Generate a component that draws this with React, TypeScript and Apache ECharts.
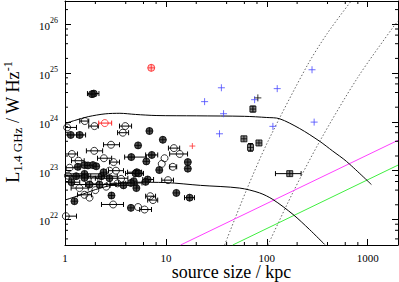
import React, { useEffect, useRef } from 'react';
import * as echarts from 'echarts';

const FONT = 'Liberation Serif';
const X_MIN = 1;
const X_MAX = 2000;
const Y_MIN = 3e21;
const Y_MAX = 3e26;

const xMinorTicks = [2, 4, 6, 8, 20, 40, 60, 80, 200, 400, 600, 800];
const yMinorTicks = [4e21, 6e21, 8e21, 2e22, 4e22, 6e22, 8e22, 2e23, 4e23, 6e23, 8e23, 2e24, 4e24, 6e24, 8e24, 2e25, 4e25, 6e25, 8e25, 2e26];

// [size, L, sizeLow, sizeHigh] (null when no error bar)
const openCircles: (number | null)[][] = [
  [1.57, 1.04e24, 1.40, 1.72], [1.96, 8.2e23, 1.72, 2.14], [1.05, 7.7e23, 1.0, 1.3],
  [3.96, 8.2e23, 3.47, 4.57], [3.74, 6.0e23, 3.32, 4.27], [2.86, 3.4e23, 2.41, 3.47],
  [12.0, 2.9e23, 10.6, 13.7], [1.95, 2.55e23, 1.63, 2.36], [1.17, 2.2e23, 1.01, 1.33],
  [1.36, 1.6e23, 1.16, 1.55], [2.43, 1.8e23, 2.1, 2.9], [3.03, 1.5e23, 2.76, 3.47],
  [9.7, 1.8e23, null, null], [13.7, 2.2e23, 10.9, 16.4], [9.1, 1.38e23, null, null],
  [11.7, 1.2e23, 10.9, 12.8], [10.5, 6.4e22, 9.1, 11.9], [7.0, 3.0e22, 6.3, 7.9],
  [7.45, 2.5e22, 6.6, 8.3], [5.3, 1.8e22, null, null], [6.15, 1.6e22, 5.5, 7.2],
  [3.0, 2.03e22, 2.3, 3.8], [1.56, 3.2e22, 1.33, 1.83], [1.75, 2.8e22, null, null],
  [1.02, 1.17e22, 1.0, 1.3], [1.11, 1.15e23, 1.0, 1.4], [2.76, 1.0e23, null, null],
  [3.2, 1.0e23, 2.7, 3.8], [1.07, 7.9e22, 1.0, 1.5], [3.6, 6.8e22, null, null],
  [2.56, 4.7e22, null, null], [1.96, 6.4e22, null, null], [3.32, 5.5e22, 2.8, 4.0],
  [1.39, 4.4e22, 1.15, 1.7], [2.0, 4.0e22, null, null],
];

const filledCircles: (number | null)[][] = [
  [1.93, 3.8e24, 1.67, 2.17], [1.85, 3.7e24, null, null], [6.87, 6.5e23, null, null],
  [9.33, 4.3e23, null, null], [1.14, 5.4e23, 1.01, 1.3], [1.40, 5.4e23, 1.3, 1.6],
  [5.3, 3.3e23, null, null], [4.54, 1.9e23, 3.9, 6.4], [7.25, 2.1e23, 6.3, 8.3],
  [6.4, 1.55e23, null, null], [16.5, 1.5e23, null, null], [16.5, 1.1e23, null, null],
  [8.6, 1.03e23, null, null], [5.15, 9.3e22, 4.17, 5.74], [6.6, 6.6e22, 5.9, 7.55],
  [4.8, 6.1e22, null, null], [12.7, 3.5e22, null, null], [17.2, 2.8e22, 15.3, 19.2],
  [4.5, 1.73e22, null, null], [1.24, 2.37e22, null, null], [2.89, 3.1e22, null, null],
  [1.34, 1.2e23, null, null], [1.56, 1.3e23, null, null], [1.69, 1.28e23, null, null],
  [1.89, 1.3e23, null, null], [2.04, 1.23e23, null, null], [5.0, 8.8e22, 3.98, 6.0],
  [5.4, 8.8e22, null, null], [1.56, 8.6e22, 1.0, 2.6], [1.29, 7.7e22, 1.0, 1.8],
  [1.56, 7.1e22, 1.1, 2.3], [4.5, 5.6e22, 3.4, 5.8], [6.3, 5.9e22, null, null],
  [1.75, 5.2e22, 1.2, 2.6], [2.2, 5.2e22, 1.6, 3.2], [5.1, 4.4e22, null, null],
  [1.16, 5.8e22, 1.0, 1.4], [2.3, 7.7e22, 1.7, 3.3], [2.76, 7.0e22, 2.0, 4.2],
  [3.8, 5.0e22, 2.8, 5.2], [2.41, 9.3e22, null, null],
];

const redCircles: (number | null)[][] = [
  [7.16, 1.28e25, null, null], [2.48, 9.45e23, 2.16, 2.9],
];
const redPlus = [[18.3, 3.2e23]];

// squares: [size, L, sizeLow, sizeHigh, LLow, LHigh]
const boxes: (number | null)[][] = [
  [59.4, 4.5e23, null, null, null, null], [72.9, 1.83e24, null, null, 1.6e24, 2.1e24],
  [69, 3.0e23, null, null, 2.5e23, 3.6e23], [83.7, 3.7e23, null, null, null, null],
  [169, 8.7e22, 122, 219, null, null],
];

const bluePlus = [
  [35.5, 5.0e24], [24.2, 2.6e24], [37.3, 1.47e24], [34.0, 5.7e23], [75.8, 2.85e24],
  [127, 4.8e24], [115, 8.1e23], [281, 1.17e25], [295, 9.9e23],
];
const blackPlus = [[81.6, 3.1e24]];

const upperX = [1, 1.25, 1.7, 2.5, 3.5, 5, 8, 20, 60, 100, 134, 212, 335, 450, 617, 1090];
const upperY = [9.3e23, 1.07e24, 1.28e24, 1.46e24, 1.5e24, 1.42e24, 1.35e24, 1.33e24, 1.3e24, 1.23e24, 1.16e24, 7.3e23, 4.0e23, 2.53e23, 1.55e23, 5.2e22];
const lowerX = [1, 1.5, 2, 3, 5, 10, 22, 54, 85, 115, 182, 265, 375];
const lowerY = [2.5e22, 3.3e22, 4.1e22, 5.1e22, 5.8e22, 5.7e22, 5.0e22, 4.4e22, 3.5e22, 2.57e22, 1.27e22, 6.25e21, 3.08e21];
const dot1X = [38.2, 63.1, 102.8, 251, 398, 691];
const dot1Y = [3e21, 4.05e22, 3.99e23, 1.41e25, 6.5e25, 3.05e26];
const dot2X = [102.8, 178, 335, 794, 1786, 2000];
const dot2Y = [3e21, 3.29e22, 3.99e23, 8.0e24, 8.7e25, 1.17e26];
const magentaX = [14, 2000];
const magentaY = [3e21, 4.2e23];
const greenX = [46, 2000];
const greenY = [3e21, 1.3e23];

const zip = (xs: number[], ys: number[]) => xs.map((x, i) => [x, ys[i]]);
const isPow10 = (v: number) => {
  const l = Math.log10(v);
  return Math.abs(l - Math.round(l)) < 1e-6;
};

const CIRCLE_CROSS = 'path://M0,5 A5,5 0 1 1 10,5 A5,5 0 1 1 0,5 Z M5,0 L5,10 M0,5 L10,5';
const BOX_CROSS = 'path://M0,0 L10,0 L10,10 L0,10 Z M5,0 L5,10 M0,5 L10,5';
const PLUS = 'path://M5,0 L5,10 M0,5 L10,5';

function hErrSeries(rows: (number | null)[][], color: string) {
  const data = rows.filter(r => r[2] != null && r[3] != null).map(r => [r[0], r[1], r[2], r[3]]);
  return {
    type: 'custom', silent: true, z: 2, clip: true,
    data,
    renderItem: (params: any, api: any) => {
      const y = api.value(1);
      const c = api.coord([api.value(0), y]);
      const l = api.coord([api.value(2), y]);
      const h = api.coord([api.value(3), y]);
      const st = { stroke: color, lineWidth: 1 };
      return {
        type: 'group', children: [
          { type: 'line', shape: { x1: l[0], y1: c[1], x2: h[0], y2: c[1] }, style: st },
          { type: 'line', shape: { x1: l[0], y1: c[1] - 2.5, x2: l[0], y2: c[1] + 2.5 }, style: st },
          { type: 'line', shape: { x1: h[0], y1: c[1] - 2.5, x2: h[0], y2: c[1] + 2.5 }, style: st },
        ],
      };
    },
  };
}

function vErrSeries(rows: (number | null)[][]) {
  const data = rows.filter(r => r[4] != null && r[5] != null).map(r => [r[0], r[1], r[4], r[5]]);
  return {
    type: 'custom', silent: true, z: 2, clip: true,
    data,
    renderItem: (params: any, api: any) => {
      const x = api.value(0);
      const lo = api.coord([x, api.value(2)]);
      const hi = api.coord([x, api.value(3)]);
      const st = { stroke: '#000', lineWidth: 1 };
      return {
        type: 'group', children: [
          { type: 'line', shape: { x1: lo[0], y1: lo[1], x2: hi[0], y2: hi[1] }, style: st },
          { type: 'line', shape: { x1: lo[0] - 2.5, y1: lo[1], x2: lo[0] + 2.5, y2: lo[1] }, style: st },
          { type: 'line', shape: { x1: hi[0] - 2.5, y1: hi[1], x2: hi[0] + 2.5, y2: hi[1] }, style: st },
        ],
      };
    },
  };
}

function lineSeries(xs: number[], ys: number[], color: string, type: any = 'solid', smooth: any = false) {
  return {
    type: 'line', data: zip(xs, ys), showSymbol: false, symbol: 'none', smooth, clip: true, z: 3,
    lineStyle: { color, width: 1, type }, silent: true,
  };
}

export default function App() {
  const ref = useRef<HTMLDivElement>(null);
  useEffect(() => {
    if (!ref.current) return;
    const chart = echarts.init(ref.current, null, { renderer: 'svg' });
    const axisCommonX = {
      type: 'log', logBase: 10, min: X_MIN, max: X_MAX,
      axisLine: { show: true, lineStyle: { color: '#000', width: 1 } },
      axisTick: { show: true, inside: true, length: 6, lineStyle: { color: '#000', width: 1 } },
      splitLine: { show: false }, minorTick: { show: false },
    };
    const axisCommonY = {
      type: 'log', logBase: 10, min: Y_MIN, max: Y_MAX,
      axisLine: { show: true, lineStyle: { color: '#000', width: 1 } },
      axisTick: { show: true, inside: true, length: 6, lineStyle: { color: '#000', width: 1 } },
      splitLine: { show: false }, minorTick: { show: false },
    };
    const option: any = {
      animation: false,
      backgroundColor: '#fff',
      textStyle: { fontFamily: FONT, color: '#000' },
      grid: { left: 65, right: 1, top: 1, bottom: 37, outerBoundsMode: 'none', containLabel: false },
      xAxis: [
        {
          ...axisCommonX, position: 'bottom',
          axisLabel: {
            color: '#000', fontFamily: FONT, fontSize: 11, margin: 7,
            formatter: (v: number) => (isPow10(v) ? String(Math.round(v)) : ''),
          },
        },
        { ...axisCommonX, position: 'top', axisLabel: { show: false } },
      ],
      yAxis: [
        {
          ...axisCommonY, position: 'left',
          axisLabel: {
            color: '#000', fontFamily: FONT, fontSize: 11, margin: 7,
            formatter: (v: number) => (isPow10(v) ? `{b|10}{s|${Math.round(Math.log10(v))}}` : ''),
            rich: {
              b: { fontSize: 11, fontFamily: FONT, color: '#000', verticalAlign: 'bottom', lineHeight: 15 },
              s: { fontSize: 8, fontFamily: FONT, color: '#000', verticalAlign: 'top' },
            },
          },
        },
        { ...axisCommonY, position: 'right', axisLabel: { show: false } },
      ],
      graphic: [
        {
          type: 'text', x: 231.5, y: 272, silent: true,
          style: { text: 'source size / kpc', fontFamily: FONT, fontSize: 18, fill: '#000', align: 'center', verticalAlign: 'middle' },
        },
        {
          type: 'text', x: 12.5, y: 122, rotation: Math.PI / 2, silent: true,
          style: {
            text: '{m|L}{sub|1.4 GHz}{m| / W Hz}{sup|-1}',
            align: 'center', verticalAlign: 'middle', fill: '#000', fontFamily: FONT, fontSize: 18,
            rich: {
              m: { fontSize: 18, fontFamily: FONT, fill: '#000', verticalAlign: 'middle', lineHeight: 22 },
              sub: { fontSize: 13, fontFamily: FONT, fill: '#000', verticalAlign: 'bottom' },
              sup: { fontSize: 12, fontFamily: FONT, fill: '#000', verticalAlign: 'top' },
            },
          },
        },
      ],
      series: [
        {
          type: 'custom', silent: true, z: 10, data: xMinorTicks.map(v => [v, Y_MIN]),
          renderItem: (params: any, api: any) => {
            const cs = params.coordSys;
            const px = api.coord([api.value(0), Y_MIN])[0];
            const b = cs.y + cs.height, t = cs.y;
            const st = { stroke: '#000', lineWidth: 1 };
            return {
              type: 'group', children: [
                { type: 'line', shape: { x1: px, y1: b, x2: px, y2: b - 3 }, style: st },
                { type: 'line', shape: { x1: px, y1: t, x2: px, y2: t + 3 }, style: st },
              ],
            };
          },
        },
        {
          type: 'custom', silent: true, z: 10, data: yMinorTicks.map(v => [X_MIN, v]),
          renderItem: (params: any, api: any) => {
            const cs = params.coordSys;
            const py = api.coord([X_MIN, api.value(1)])[1];
            const l = cs.x, r = cs.x + cs.width;
            const st = { stroke: '#000', lineWidth: 1 };
            return {
              type: 'group', children: [
                { type: 'line', shape: { x1: l, y1: py, x2: l + 3, y2: py }, style: st },
                { type: 'line', shape: { x1: r, y1: py, x2: r - 3, y2: py }, style: st },
              ],
            };
          },
        },
        lineSeries(dot1X, dot1Y, '#666', [1.5, 2], 0.3),
        lineSeries(dot2X, dot2Y, '#666', [1.5, 2], 0.3),
        lineSeries(magentaX, magentaY, '#ff40ff'),
        lineSeries(greenX, greenY, '#40ee40'),
        lineSeries(upperX, upperY, '#000', 'solid', 0.3),
        lineSeries(lowerX, lowerY, '#000', 'solid', 0.3),
        hErrSeries(openCircles, '#000'),
        hErrSeries(filledCircles, '#000'),
        hErrSeries(redCircles, '#ff2020'),
        hErrSeries(boxes, '#000'),
        vErrSeries(boxes),
        {
          type: 'scatter', z: 4, silent: true, symbol: 'circle', symbolSize: 7,
          data: openCircles.map(r => [r[0], r[1]]),
          itemStyle: { color: 'rgba(255,255,255,0)', borderColor: '#000', borderWidth: 1 },
        },
        {
          type: 'scatter', z: 4, silent: true, symbol: CIRCLE_CROSS, symbolSize: 7,
          data: filledCircles.map(r => [r[0], r[1]]),
          itemStyle: { color: '#222', borderColor: '#000', borderWidth: 1 },
        },
        {
          type: 'scatter', z: 4, silent: true, symbol: CIRCLE_CROSS, symbolSize: 7,
          data: redCircles.slice(0, 1).map(r => [r[0], r[1]]),
          itemStyle: { color: 'rgba(255,60,60,0.35)', borderColor: '#ff2020', borderWidth: 1 },
        },
        {
          type: 'scatter', z: 4, silent: true, symbol: 'circle', symbolSize: 7,
          data: redCircles.slice(1).map(r => [r[0], r[1]]),
          itemStyle: { color: 'rgba(255,255,255,0)', borderColor: '#ff2020', borderWidth: 1 },
        },
        {
          type: 'scatter', z: 4, silent: true, symbol: BOX_CROSS, symbolSize: 6,
          data: boxes.map(r => [r[0], r[1]]),
          itemStyle: { color: '#666', borderColor: '#000', borderWidth: 1 },
        },
        {
          type: 'scatter', z: 4, silent: true, symbol: PLUS, symbolSize: 7,
          data: bluePlus,
          itemStyle: { color: 'none', borderColor: '#4848ff', borderWidth: 1 },
        },
        {
          type: 'scatter', z: 4, silent: true, symbol: PLUS, symbolSize: 7,
          data: blackPlus,
          itemStyle: { color: 'none', borderColor: '#000', borderWidth: 1 },
        },
        {
          type: 'scatter', z: 4, silent: true, symbol: PLUS, symbolSize: 6,
          data: redPlus,
          itemStyle: { color: 'none', borderColor: '#ff3030', borderWidth: 1 },
        },
      ],
    };
    chart.setOption(option);
    return () => chart.dispose();
  }, []);
  return (
    <div
      ref={ref}
      style={{ position: 'fixed', left: 0, top: 0, width: 399, height: 282, background: '#fff' }}
    />
  );
}
